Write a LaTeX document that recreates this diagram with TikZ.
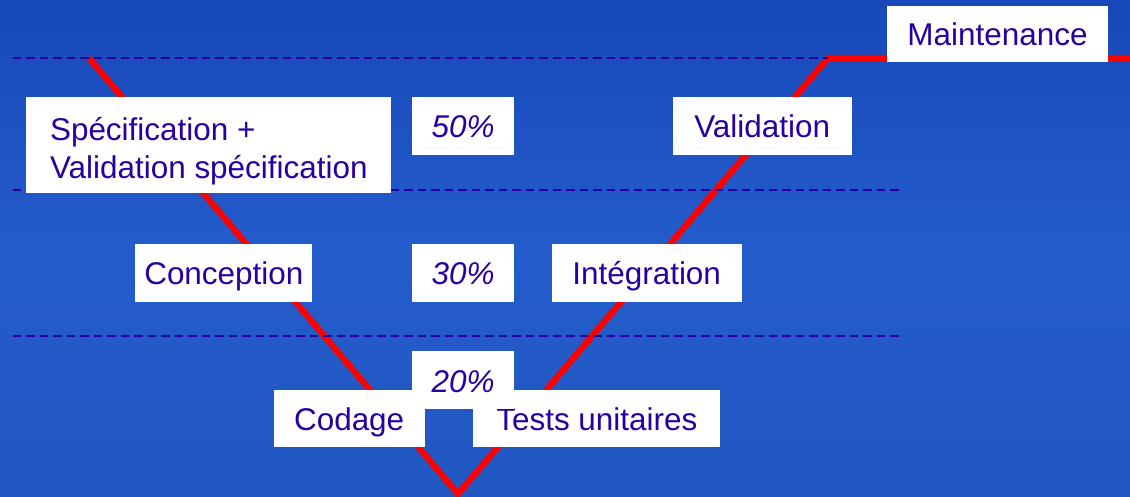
\documentclass[tikz,border=0pt]{standalone}
\usepackage{fontspec}
\setmainfont{Liberation Sans}
\usetikzlibrary{positioning,calc}
\definecolor{skyblue}{RGB}{36,92,204}
\definecolor{skytop}{RGB}{24,72,186}
\definecolor{vtext}{RGB}{40,0,160}

\begin{document}
\begin{tikzpicture}[x=0.02cm,y=-0.02cm,
box/.style={rectangle,fill=white,inner sep=0pt,text=vtext,font=\fontsize{17.9}{21.5}\selectfont,minimum height=1.16cm,text height=16pt,text depth=2.4pt},
pct/.style={box,font=\fontsize{17.9}{21.5}\selectfont\itshape,minimum width=2.04cm},
level/.style={dash pattern=on 0.17cm off 0.1cm,line width=1.4pt,color=vtext},
vline/.style={red,line width=3.6pt}]

% background
\shade[top color=skytop,bottom color=skyblue!95!black,middle color=skyblue] (0,0) rectangle (1130,497);
\useasboundingbox (0,0) rectangle (1130,497);

% the V
\coordinate (vl) at (89,58);
\coordinate (vb) at (458,494);
\coordinate (vr) at (828,58);
\coordinate (ve) at (1135,58);
\draw[vline] (vl) -- (vb) -- (vr) -- (ve);

% levels
\coordinate (d1) at (13,58);
\coordinate (d2) at (13,190);
\coordinate (d2e) at (903,190);
\coordinate (d3) at (13,336);
\coordinate (d3e) at (903,336);
\draw[level] (d1) -- (vr);
\draw[level] (d2) -- (d2e);
\draw[level] (d3) -- (d3e);

% percentages
\node[pct] (p50) at (463,126) {50\%};
\node[pct,below=1.76cm of p50] (p30) {30\%};

% phases
\node[box,minimum width=7.3cm,minimum height=1.92cm,text height=,text depth=,align=left,anchor=north east] (spec) at ($(p50.north west)+(-20,0)$) {\rule{0pt}{20pt}Spécification +\\Validation spécification};
\node[box,minimum width=3.58cm,right=3.16cm of p50] (valid) {Validation};
\node[box,minimum width=4.42cm,minimum height=1.12cm] (maint) at (997.5,34) {Maintenance};
\node[box,minimum width=3.54cm,left=1.98cm of p30] (concep) {Conception};
\node[box,minimum width=3.8cm,right=0.74cm of p30] (integ) {Intégration};
\node[box,minimum width=3.02cm,minimum height=1.14cm,anchor=north east] (codage) at (425,390) {Codage};
\node[box,minimum width=4.94cm,minimum height=1.14cm,anchor=north west] (tests) at (473,390) {Tests unitaires};

% 20% last, on top of its neighbours
\node[pct,below=0.98cm of p30] (p20) {20\%};
\end{tikzpicture}
\end{document}
